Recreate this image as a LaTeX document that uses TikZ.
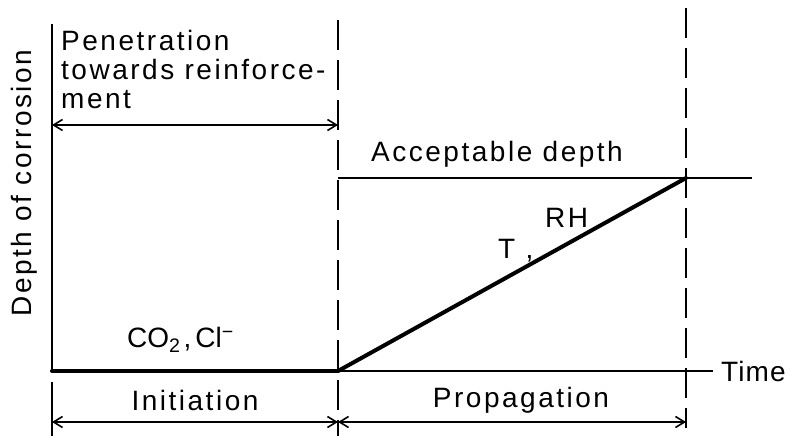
\documentclass[tikz,border=0pt]{standalone}
\usepackage{fontspec}
\setmainfont[LetterSpace=9]{Liberation Sans}
\usetikzlibrary{arrows.meta}
\begin{document}
\begin{tikzpicture}[x=1pt,y=-1pt,
  lbl/.style={font=\fontsize{28}{30}\selectfont, inner sep=0pt},
  thin line/.style={line width=1.6pt},
  thick line/.style={line width=4pt},
  dash line/.style={line width=1.6pt, dash pattern=on 30pt off 10pt},
  dim/.style={line width=1.6pt, {Straight Barb[length=9pt,width=11pt]}-{Straight Barb[length=9pt,width=11pt]}}]
\useasboundingbox (0,0) rectangle (793,436);
% key points
\coordinate (top) at (52,24);
\coordinate (O) at (52,371);
\coordinate (A) at (338,371);
\coordinate (B) at (686,178);
\coordinate (tend) at (713,371);
\coordinate (acc0) at (338,178);
\coordinate (acc1) at (752,178);
\coordinate (d1t) at (338,20);
\coordinate (d1b) at (338,436);
\coordinate (d2t) at (686,8);
\coordinate (d2b) at (686,428);
\coordinate (ext0) at (52,382);
\coordinate (ext1) at (52,436);
\coordinate (p0) at (52,125);
\coordinate (p1) at (338,125);
\coordinate (b0) at (52,422);
\coordinate (b1) at (338,422);
\coordinate (b2) at (686,422);
% axes
\draw[thin line] (top) -- (O);
\draw[thin line] (ext0) -- (ext1);
\draw[thin line] (A) -- (tend);
\draw[thick line, line cap=round] (O) -- (A);
\draw[thick line, line cap=round] (A) -- (B);
\draw[thin line] (acc0) -- (acc1);
\draw[dash line] (d1t) -- (d1b);
\draw[dash line] (d2t) -- (d2b);
% dimension arrows
\draw[dim] (p0) -- (p1);
\draw[dim] (b0) -- (b1);
\draw[dim] (b1) -- (b2);
% labels
\node[lbl, anchor=west] (time) at (721,371) {\addfontfeature{LetterSpace=4}Time};
\node[lbl, rotate=90] (ylab) at (24,183) {Depth of corrosion};
\node[lbl, anchor=north west, align=left] (pen) at (61,30) {Penetration\\[-1pt]towards reinforce-\\[-1pt]ment};
\node[lbl, anchor=south west] (acc) at (371,168) {Acceptable depth};
\node[lbl, anchor=west] (co) at (127,340) {\addfontfeature{LetterSpace=0}CO\textsubscript{2}\hspace{3pt},\hspace{4pt}Cl\textsuperscript{−}};
\node[lbl, anchor=west] (T) at (498,251) {T ,};
\node[lbl, anchor=west] (RH) at (545,218) {RH};
\node[lbl] (ini) at (195,400) {Initiation};
\node[lbl] (prop) at (521,400) {Propagation};
\end{tikzpicture}
\end{document}
